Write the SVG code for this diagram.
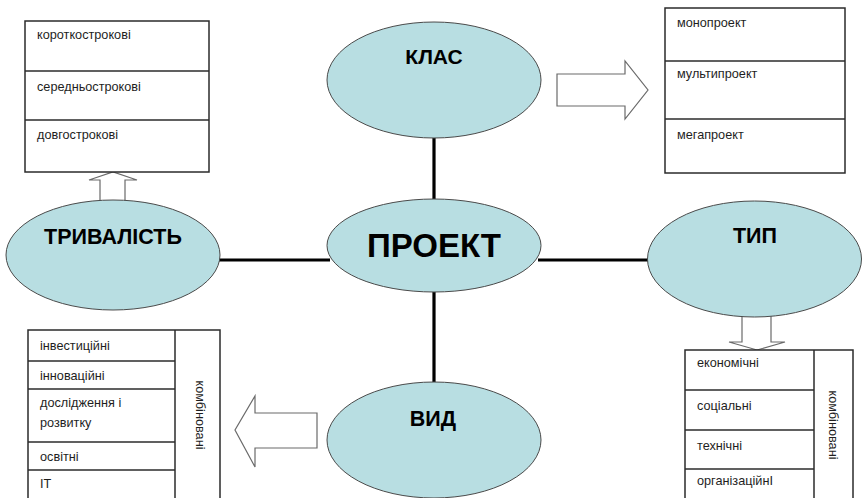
<svg xmlns="http://www.w3.org/2000/svg" width="863" height="498" viewBox="0 0 863 498">
<style>
.ell{fill:#b8dee2;stroke:#4a4a4a;stroke-width:1}
.big{font-family:"Liberation Sans",Arial,sans-serif;font-weight:bold;fill:#000;text-anchor:middle}
.box{fill:#fff;stroke:#2b2b2b;stroke-width:1.5}
.div{stroke:#2b2b2b;stroke-width:1.5}
.t{font-family:"Liberation Sans",Arial,sans-serif;font-size:12.7px;fill:#1e1e1e}
.arr{fill:#fff;stroke:#6a6a6a;stroke-width:1.2}
.con{stroke:#000;stroke-width:3.2}
</style>
<g id="connectors">
<line class="con" x1="434" y1="136" x2="434" y2="202"/>
<line class="con" x1="434" y1="290" x2="434" y2="384"/>
<line class="con" x1="218" y1="260" x2="330" y2="260"/>
<line class="con" x1="538" y1="260" x2="649" y2="260"/>
<polygon class="arr" points="100,203 100,180 89,180 113,172 137,180 125,180 125,203"/>
<polygon class="arr" points="557,74 625,74 625,61 648,90 625,119 625,106 557,106"/>
<polygon class="arr" points="742,314 742,342 729,342 757,350 785,342 771,342 771,314"/>
<polygon class="arr" points="317,413 255,413 255,396 235,430 255,467 255,448 317,448"/>
</g>
<g id="klas">
<ellipse class="ell" cx="434" cy="80" rx="107" ry="58"/>
<text class="big" x="434" y="64" font-size="21">КЛАС</text>
</g>
<g id="proekt">
<ellipse class="ell" cx="434" cy="245.5" rx="107" ry="46.5"/>
<text class="big" x="434" y="257" font-size="33">ПРОЕКТ</text>
</g>
<g id="tryvalist">
<ellipse class="ell" cx="113" cy="255" rx="107" ry="55"/>
<text class="big" x="113" y="244" font-size="21.5">ТРИВАЛІСТЬ</text>
</g>
<g id="typ">
<ellipse class="ell" cx="754.5" cy="259" rx="107" ry="58"/>
<text class="big" x="755" y="243" font-size="21.5">ТИП</text>
</g>
<g id="vyd">
<ellipse class="ell" cx="434" cy="440" rx="107" ry="58"/>
<text class="big" x="433" y="426" font-size="21.5">ВИД</text>
</g>
<g id="box-duration">
<rect class="box" x="25" y="21" width="184" height="151"/>
<line class="div" x1="25" y1="71" x2="209" y2="71"/>
<line class="div" x1="25" y1="120" x2="209" y2="120"/>
<text class="t" x="37" y="39">короткострокові</text>
<text class="t" x="37" y="91">середньострокові</text>
<text class="t" x="37" y="139">довгострокові</text>
</g>
<g id="box-class">
<rect class="box" x="665" y="8" width="180" height="165"/>
<line class="div" x1="665" y1="61" x2="845" y2="61"/>
<line class="div" x1="665" y1="119" x2="845" y2="119"/>
<text class="t" x="677" y="27">монопроект</text>
<text class="t" x="677" y="78">мультипроект</text>
<text class="t" x="677" y="139">мегапроект</text>
</g>
<g id="box-kind">
<rect class="box" x="28" y="330" width="192" height="180"/>
<line class="div" x1="175" y1="330" x2="175" y2="500"/>
<line class="div" x1="28" y1="361" x2="175" y2="361"/>
<line class="div" x1="28" y1="389" x2="175" y2="389"/>
<line class="div" x1="28" y1="442" x2="175" y2="442"/>
<line class="div" x1="28" y1="470" x2="175" y2="470"/>
<text class="t" x="40" y="350">інвестиційні</text>
<text class="t" x="40" y="380">інноваційні</text>
<text class="t" x="40" y="407">дослідження і</text>
<text class="t" x="40" y="427">розвитку</text>
<text class="t" x="40" y="461">освітні</text>
<text class="t" x="40" y="488">ІТ</text>
<text class="t" x="196" y="415" text-anchor="middle" transform="rotate(90 196 415)">комбіновані</text>
</g>
<g id="box-type">
<rect class="box" x="685" y="350" width="168" height="160"/>
<line class="div" x1="814" y1="350" x2="814" y2="500"/>
<line class="div" x1="685" y1="390" x2="814" y2="390"/>
<line class="div" x1="685" y1="430" x2="814" y2="430"/>
<line class="div" x1="685" y1="469" x2="814" y2="469"/>
<text class="t" x="697" y="367">економічні</text>
<text class="t" x="697" y="410">соціальні</text>
<text class="t" x="697" y="450">технічні</text>
<text class="t" x="697" y="485">організаційнІ</text>
<text class="t" x="829" y="425" text-anchor="middle" transform="rotate(90 829 425)">комбіновані</text>
</g>
</svg>
